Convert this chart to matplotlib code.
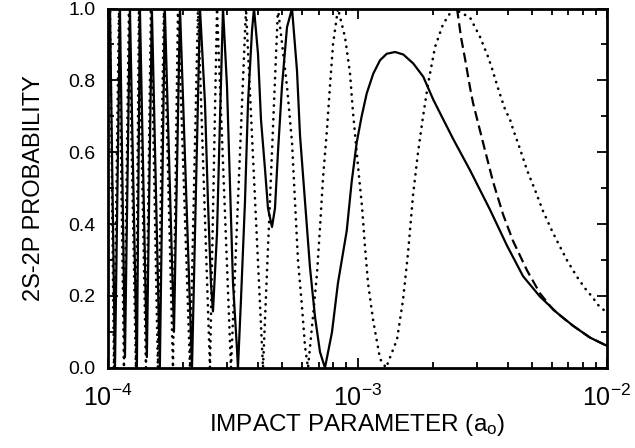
import numpy as np
import matplotlib
matplotlib.use("Agg")
import matplotlib.pyplot as plt
from matplotlib.ticker import MultipleLocator, FormatStrFormatter, LogLocator

plt.rcParams['font.family'] = ['Liberation Sans', 'DejaVu Sans']
plt.rcParams['mathtext.fontset'] = 'custom'
plt.rcParams['mathtext.rm'] = 'Liberation Sans'
plt.rcParams['mathtext.it'] = 'Liberation Sans'
plt.rcParams['axes.unicode_minus'] = False

# impact parameter in units of 1e-4 a0, probabilities
solid_b = [1.000, 1.019, 1.067, 1.117, 1.170, 1.225, 1.306, 1.343, 1.432, 1.500,
           1.614, 1.690, 1.839, 1.944, 2.172, 2.338, 2.448, 2.516, 2.587, 2.635,
           2.735, 2.811, 2.891, 2.999, 3.083, 3.170, 3.289, 3.319, 3.412, 3.541,
           3.641, 3.778, 3.848, 3.993, 4.105, 4.259, 4.378, 4.543, 4.670, 4.800,
           4.982, 5.218, 5.465, 5.722, 5.883, 6.160, 6.451, 6.756, 7.074, 7.407,
           7.901, 8.350, 9.052, 9.478, 9.927, 10.39, 10.89, 11.57, 12.31, 13.09,
           14.14, 15.26, 16.73, 18.35, 20.13, 22.07, 24.21, 28.24, 33.96, 39.73,
           46.06, 53.88, 63.04, 73.07, 85.48, 100.0]
solid_p = [0.80, 1.0, 0.0, 1.0, 0.03, 1.0, 0.0, 1.0, 0.03, 1.0,
           0.0, 1.0, 0.10, 1.0, 0.0, 1.0, 0.737, 0.463, 0.236, 0.157,
           0.373, 0.690, 1.0, 0.784, 0.510, 0.236, 0.052, 0.0, 0.189, 0.463,
           0.737, 0.938, 1.0, 0.874, 0.690, 0.553, 0.444, 0.392, 0.444, 0.600,
           0.784, 0.948, 1.0, 0.827, 0.647, 0.463, 0.279, 0.142, 0.044, 0.0,
           0.099, 0.236, 0.381, 0.518, 0.627, 0.700, 0.764, 0.819, 0.856, 0.874,
           0.879, 0.872, 0.847, 0.810, 0.746, 0.691, 0.636, 0.550, 0.440, 0.340,
           0.255, 0.198, 0.153, 0.117, 0.084, 0.061]

dashed_b = [25.05, 25.99, 26.97, 28.24, 29.04, 31.84, 34.92, 38.30, 42.00, 47.79,
            53.88, 60.76, 66.63, 73.07, 85.48, 100.0]
dashed_p = [1.0, 0.92, 0.86, 0.78, 0.737, 0.627, 0.518, 0.427, 0.353, 0.271,
            0.207, 0.162, 0.139, 0.117, 0.084, 0.061]

dotted_b = [1.000, 1.019, 1.057, 1.107, 1.159, 1.214, 1.294, 1.331, 1.420, 1.487,
            1.585, 1.676, 1.822, 1.908, 2.132, 2.295, 2.563, 2.735, 3.112, 3.574,
            4.181, 4.800, 5.218, 5.465, 5.617, 5.774, 5.992, 6.160, 6.333, 6.632,
            6.882, 7.074, 7.272, 7.546, 7.757, 7.980, 8.350, 8.912, 9.331, 9.594,
            10.05, 10.42, 10.72, 11.02, 11.54, 12.31, 13.01, 14.40, 15.22, 15.94,
            16.69, 17.48, 18.31, 19.17, 20.45, 22.01, 24.14, 28.24, 30.97, 33.34,
            34.60, 36.57, 39.01, 40.85, 42.00, 44.80, 47.79, 51.44, 55.40, 60.20,
            63.04, 69.14, 75.81, 81.63, 87.07, 92.02, 100.0]
dotted_p = [0.80, 1.0, 0.0, 1.0, 0.0, 1.0, 0.0, 1.0, 0.0, 1.0,
            0.0, 1.0, 0.0, 1.0, 0.0, 1.0, 0.0, 1.0, 0.0, 1.0,
            0.0, 1.0, 0.783, 0.627, 0.463, 0.299, 0.170, 0.060, 0.0, 0.143,
            0.263, 0.390, 0.527, 0.664, 0.784, 0.901, 1.0, 0.920, 0.820, 0.710,
            0.560, 0.450, 0.335, 0.236, 0.134, 0.025, 0.0, 0.079, 0.189, 0.320,
            0.480, 0.600, 0.700, 0.790, 0.893, 0.956, 1.0, 0.975, 0.921, 0.866,
            0.833, 0.778, 0.719, 0.691, 0.664, 0.609, 0.550, 0.495, 0.436, 0.381,
            0.353, 0.299, 0.253, 0.221, 0.198, 0.175, 0.153]

fig = plt.figure(figsize=(6.35, 4.48), dpi=100)
ax = fig.add_axes([0.170, 0.179, 0.786, 0.802])

ax.plot(np.array(solid_b) * 1e-4, solid_p, color='black', lw=1.6, solid_joinstyle='round')
ax.plot(np.array(dashed_b) * 1e-4, dashed_p, color='black', lw=1.6, linestyle=(0, (4.5, 2.2)))
ax.plot(np.array(dotted_b) * 1e-4, dotted_p, color='black', lw=1.9,
        linestyle=(0, (0.1, 2.5)), dash_capstyle='round')

ax.set_xscale('log')
ax.set_xlim(1e-4, 1e-2)
ax.set_ylim(0, 1)

ax.yaxis.set_major_locator(MultipleLocator(0.2))
ax.yaxis.set_minor_locator(MultipleLocator(0.1))
ax.yaxis.set_major_formatter(FormatStrFormatter('%.1f'))
ax.xaxis.set_minor_locator(LogLocator(base=10, subs=np.arange(2, 10)))

ax.tick_params(which='both', direction='in', top=True, right=True, width=1.3)
ax.tick_params(which='major', length=7)
ax.tick_params(which='minor', length=4)
ax.tick_params(axis='y', labelsize=14, pad=9)
ax.tick_params(axis='x', labelsize=18, pad=12)
for s in ax.spines.values():
    s.set_linewidth(2)

ax.set_xlabel('IMPACT PARAMETER (a$_\\mathregular{o}$)', fontsize=17.5, labelpad=1)
ax.set_ylabel('2S-2P PROBABILITY', fontsize=17, labelpad=17)

fig.savefig('out.png', dpi=100)
